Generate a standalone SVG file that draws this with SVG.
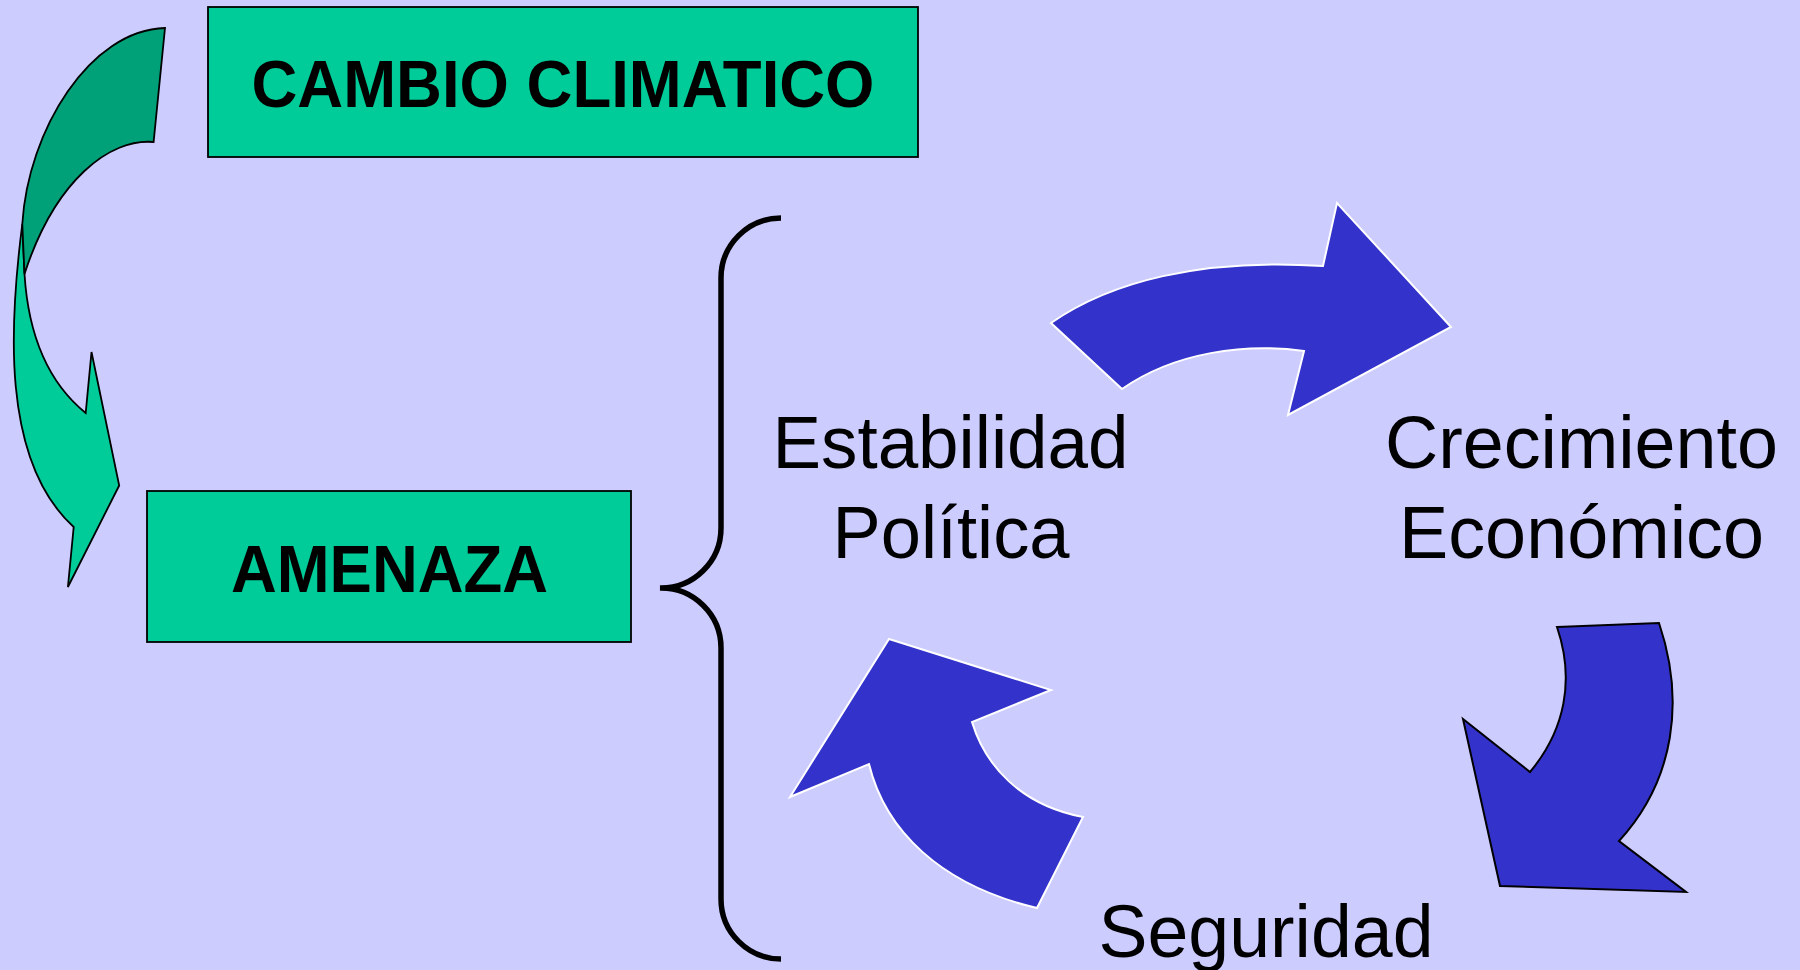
<svg xmlns="http://www.w3.org/2000/svg" width="1800" height="970" viewBox="0 0 1800 970">
<style>
.box{fill:#00CC99;stroke:#000;stroke-width:1.8}
.title{font-family:"Liberation Sans",Arial,sans-serif;font-weight:bold;font-size:66px;fill:#000;text-anchor:middle}
.lbl{font-family:"Liberation Sans",Arial,sans-serif;font-size:75px;fill:#000;text-anchor:middle}
.blueW{fill:#3333CC;stroke:#fff;stroke-width:2;stroke-linejoin:miter}
.blueK{fill:#3333CC;stroke:#000;stroke-width:2;stroke-linejoin:miter}
.grn{fill:#00CC99;stroke:#000;stroke-width:1.8;stroke-linejoin:miter}
.grnD{fill:#00A078;stroke:#000;stroke-width:1.8;stroke-linejoin:miter}
</style>
<rect width="1800" height="970" fill="#CCCCFF"/>
<g id="connectors">
  <g id="green-curved-arrow">
    <path class="grn" d="M22.3,224 C10,320 0,460 73.7,527 L67.9,587 L119.2,485.5 L91.5,352 L85.7,413 C45,380 28,330 24.5,274 Z"/>
    <path class="grnD" d="M165,28 C90,30 28,130 22.3,224 L24.5,274 C55,180 110,138 153.6,142 Z"/>
  </g>
  <path id="brace" d="M781,218 A60,60 0 0 0 721,278 L721,528 A60,60 0 0 1 660,588 A60,60 0 0 1 721,648 L721,899 A60,60 0 0 0 781,959" fill="none" stroke="#000" stroke-width="5.5"/>
  <path id="arrow-top" class="blueW" d="M1051,323 C1110,282 1200,258 1323,266 L1337,203 L1451,327 L1288,415 L1304,351 C1245,343 1175,352 1122,389 Z"/>
  <path id="arrow-right" class="blueK" d="M1557,627 L1659,623 C1685,700 1675,780 1619,841 L1686,892 L1500,886 L1463,719 L1530,772 C1565,730 1575,680 1557,627 Z"/>
  <path id="arrow-left" class="blueW" d="M889,639 L1051,690 L972,722 C985,765 1020,805 1083,817 L1037,908 C940,885 885,830 869,764 L790,797 Z"/>
</g>
<g id="node-cambio">
  <rect class="box" x="208" y="7" width="710" height="150"/>
  <text class="title" x="563" y="107" textLength="623" lengthAdjust="spacingAndGlyphs">CAMBIO CLIMATICO</text>
</g>
<g id="node-amenaza">
  <rect class="box" x="147" y="491" width="484" height="151"/>
  <text class="title" x="389.5" y="592" textLength="317" lengthAdjust="spacingAndGlyphs">AMENAZA</text>
</g>
<g id="node-estabilidad">
  <text class="lbl" x="950.5" y="468" textLength="356" lengthAdjust="spacingAndGlyphs">Estabilidad</text>
  <text class="lbl" x="951" y="558" textLength="237" lengthAdjust="spacingAndGlyphs">Política</text>
</g>
<g id="node-crecimiento">
  <text class="lbl" x="1581.5" y="468" textLength="393" lengthAdjust="spacingAndGlyphs">Crecimiento</text>
  <text class="lbl" x="1581.5" y="558" textLength="365" lengthAdjust="spacingAndGlyphs">Económico</text>
</g>
<g id="node-seguridad">
  <text class="lbl" x="1266" y="957" textLength="335" lengthAdjust="spacingAndGlyphs">Seguridad</text>
</g>
</svg>
